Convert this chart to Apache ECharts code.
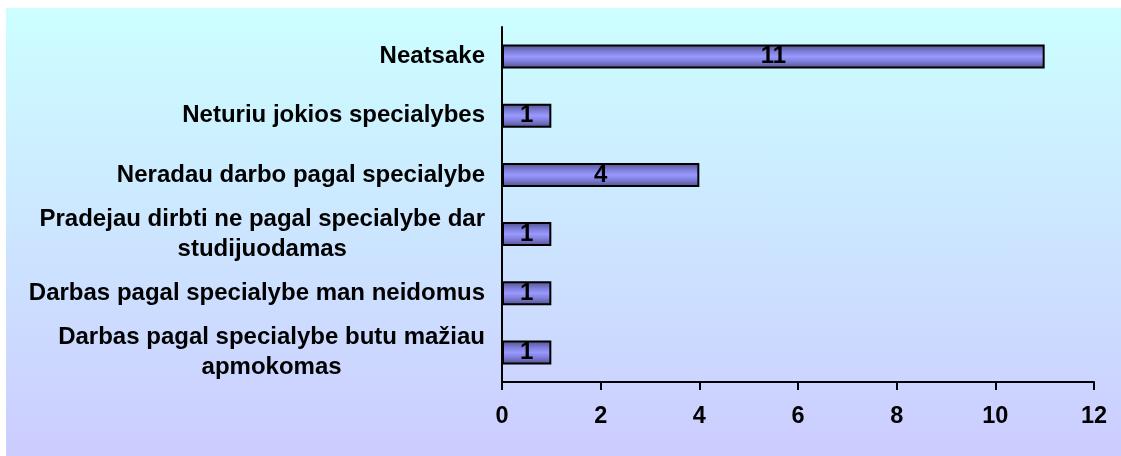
<!DOCTYPE html>
<html>
<head>
<meta charset="utf-8">
<script src="https://cdn.jsdelivr.net/npm/echarts@6/dist/echarts.min.js"></script>
<style>
  html, body { margin: 0; padding: 0; background: #ffffff; }
  #chart {
    position: absolute; left: 6px; top: 8px; width: 1115px; height: 448px;
    background: linear-gradient(to bottom, #ccffff 0%, #ccccff 100%);
  }
</style>
</head>
<body>
<div id="chart"></div>
<script>
// Reasons listed top to bottom, with answer counts
const categories = [
  'Neatsake',
  'Neturiu jokios specialybes',
  'Neradau darbo pagal specialybe',
  'Pradejau dirbti ne pagal specialybe dar\nstudijuodamas',
  'Darbas pagal specialybe man neidomus',
  'Darbas pagal specialybe butu mažiau\napmokomas'
];
const counts = [11, 1, 4, 1, 1, 1];
const axisMax = 12;
const axisStep = 2;

const chart = echarts.init(document.getElementById('chart'), null, { renderer: 'canvas' });
const font = 'Arial, "Liberation Sans", sans-serif';

chart.setOption({
  backgroundColor: 'transparent',
  animation: false,
  grid: { left: 496, right: 27, top: 19, bottom: 74, containLabel: false },
  xAxis: {
    type: 'value',
    min: 0,
    max: axisMax,
    interval: axisStep,
    axisLine: { show: true, lineStyle: { color: '#000', width: 2 } },
    axisTick: { show: true, length: 8, lineStyle: { color: '#000', width: 2 } },
    splitLine: { show: false },
    axisLabel: {
      color: '#000', fontFamily: font, fontWeight: 'bold', fontSize: 23.5, margin: 23
    }
  },
  yAxis: {
    type: 'category',
    data: categories,
    inverse: true,
    axisLine: { show: true, lineStyle: { color: '#000', width: 2 } },
    axisTick: { show: false },
    splitLine: { show: false },
    axisLabel: {
      color: '#000', fontFamily: font, fontWeight: 'bold', fontSize: 24,
      margin: 17, align: 'right', lineHeight: 30,
      formatter: v => v.split('\n').map(l => '{c|' + l + '}').join('\n'),
      rich: {
        c: {
          align: 'center', color: '#000', fontFamily: font,
          fontWeight: 'bold', fontSize: 24, lineHeight: 30
        }
      }
    }
  },
  series: [{
    type: 'bar',
    data: counts,
    barWidth: 24,
    itemStyle: {
      borderColor: '#000',
      borderWidth: 2,
      color: new echarts.graphic.LinearGradient(0, 0, 0, 1, [
        { offset: 0, color: '#50508a' },
        { offset: 0.3, color: '#7f7fdb' },
        { offset: 0.5, color: '#9999ff' },
        { offset: 0.7, color: '#7f7fdb' },
        { offset: 1, color: '#50508a' }
      ])
    },
    label: {
      show: true,
      position: 'inside',
      color: '#000',
      fontFamily: font,
      fontWeight: 'bold',
      fontSize: 24
    }
  }]
});
</script>
</body>
</html>
